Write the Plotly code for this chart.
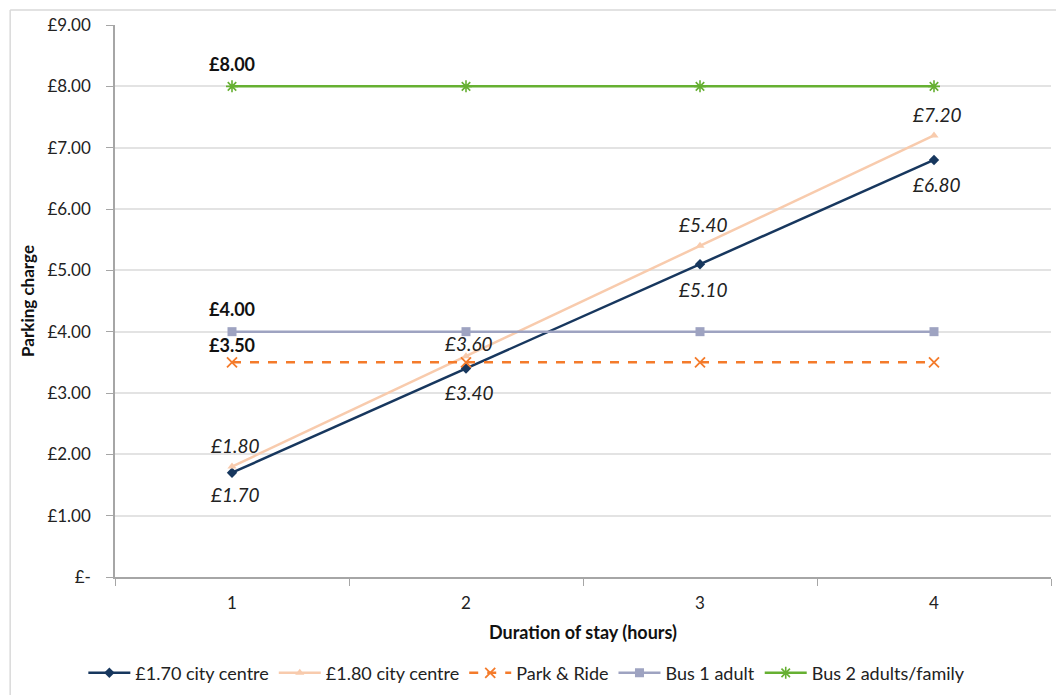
import plotly.graph_objects as go

hours = [1, 2, 3, 4]
city_170 = [1.70, 3.40, 5.10, 6.80]
city_180 = [1.80, 3.60, 5.40, 7.20]
park_ride = [3.50, 3.50, 3.50, 3.50]
bus_1 = [4.00, 4.00, 4.00, 4.00]
bus_2 = [8.00, 8.00, 8.00, 8.00]

y_ticks = [0, 1, 2, 3, 4, 5, 6, 7, 8, 9]
y_ticktext = ["£-", "£1.00", "£2.00", "£3.00", "£4.00", "£5.00", "£6.00", "£7.00", "£8.00", "£9.00"]

FONT = "Lato, 'Open Sans', sans-serif"

# label pixel offsets (styling, not data)
label_shift_170 = [-22, -24, -25, -25]
label_shift_180 = [21, 13, 21, 21]


def money(v):
    return f"£{v:.2f}"


fig = go.Figure()

fig.add_trace(go.Scatter(
    x=hours, y=city_170, name="£1.70 city centre", mode="lines+markers",
    line=dict(color="#17375e", width=2.5),
    marker=dict(symbol="diamond", size=8, color="#17375e"),
))
fig.add_trace(go.Scatter(
    x=hours, y=city_180, name="£1.80 city centre", mode="lines+markers",
    line=dict(color="#f8cbad", width=2.5),
    marker=dict(symbol="triangle-up", size=8, color="#f8cbad"),
))
fig.add_trace(go.Scatter(
    x=hours, y=park_ride, name="Park & Ride", mode="lines+markers",
    line=dict(color="#f47b2b", width=2.5, dash="dash"),
    marker=dict(symbol="x-thin-open", size=10, line=dict(color="#f47b2b", width=1.8)),
))
fig.add_trace(go.Scatter(
    x=hours, y=bus_1, name="Bus 1 adult", mode="lines+markers",
    line=dict(color="#9ea3c1", width=2.5),
    marker=dict(symbol="square", size=9, color="#9ea3c1"),
))
fig.add_trace(go.Scatter(
    x=hours, y=bus_2, name="Bus 2 adults/family", mode="lines+markers",
    line=dict(color="#66b032", width=2.5),
    marker=dict(symbol="asterisk-open", size=10, line=dict(color="#66b032", width=1.6)),
))

annotations = []
italic_font = dict(family=FONT, size=19, color="#222222", style="italic")
bold_font = dict(family=FONT, size=18, color="#111111", weight="bold")
for x, v, s in zip(hours, city_170, label_shift_170):
    annotations.append(dict(x=x, y=v, text=money(v), showarrow=False, yshift=s, xshift=3, font=italic_font))
for x, v, s in zip(hours, city_180, label_shift_180):
    annotations.append(dict(x=x, y=v, text=money(v), showarrow=False, yshift=s, xshift=3, font=italic_font))
for series, shift in ((park_ride, 17), (bus_1, 23), (bus_2, 22)):
    annotations.append(dict(x=hours[0], y=series[0], text=money(series[0]), showarrow=False,
                            yshift=shift, font=bold_font))

fig.update_layout(
    width=1056, height=695,
    margin=dict(l=115, r=5, t=25, b=117),
    paper_bgcolor="white", plot_bgcolor="white",
    font=dict(family=FONT, size=16, color="#222222"),
    showlegend=True,
    legend=dict(orientation="h", x=0.44, xanchor="center", y=-0.172, yanchor="middle",
                font=dict(family=FONT, size=18, color="#222222"), itemwidth=42,
                traceorder="normal"),
    annotations=annotations,
    xaxis=dict(
        range=[0.5, 4.5], tickvals=hours, ticktext=[str(h) for h in hours],
        showgrid=False, zeroline=False, showline=True, linecolor="#a6a6a6", linewidth=1.5,
        ticks="", tickfont=dict(size=17), ticklabelstandoff=10,
        minor=dict(tick0=0.5, dtick=1, ticks="outside", ticklen=7, tickcolor="#a6a6a6", showgrid=False),
        title=dict(text="<b>Duration of stay (hours)</b>", font=dict(size=18, color="#111111"), standoff=14),
    ),
    yaxis=dict(
        range=[0, 9], tickvals=y_ticks, ticktext=y_ticktext,
        showgrid=True, gridcolor="#e3e3e3", gridwidth=1.5, zeroline=False,
        showline=True, linecolor="#a6a6a6", linewidth=1.5,
        ticks="outside", ticklen=7, tickcolor="#a6a6a6", tickfont=dict(size=17),
        ticklabelstandoff=12,
        title=dict(text="<b>Parking charge</b>", font=dict(size=17, color="#111111"), standoff=8),
    ),
    shapes=[
        dict(type="line", xref="paper", yref="paper", x0=-0.112, x1=-0.112, y0=-0.3, y1=1.027,
             line=dict(color="#d9d9d9", width=1.5)),
        dict(type="line", xref="paper", yref="paper", x0=-0.112, x1=1.01, y0=1.027, y1=1.027,
             line=dict(color="#d9d9d9", width=1.5)),
    ],
)

fig.write_html("out.html")
